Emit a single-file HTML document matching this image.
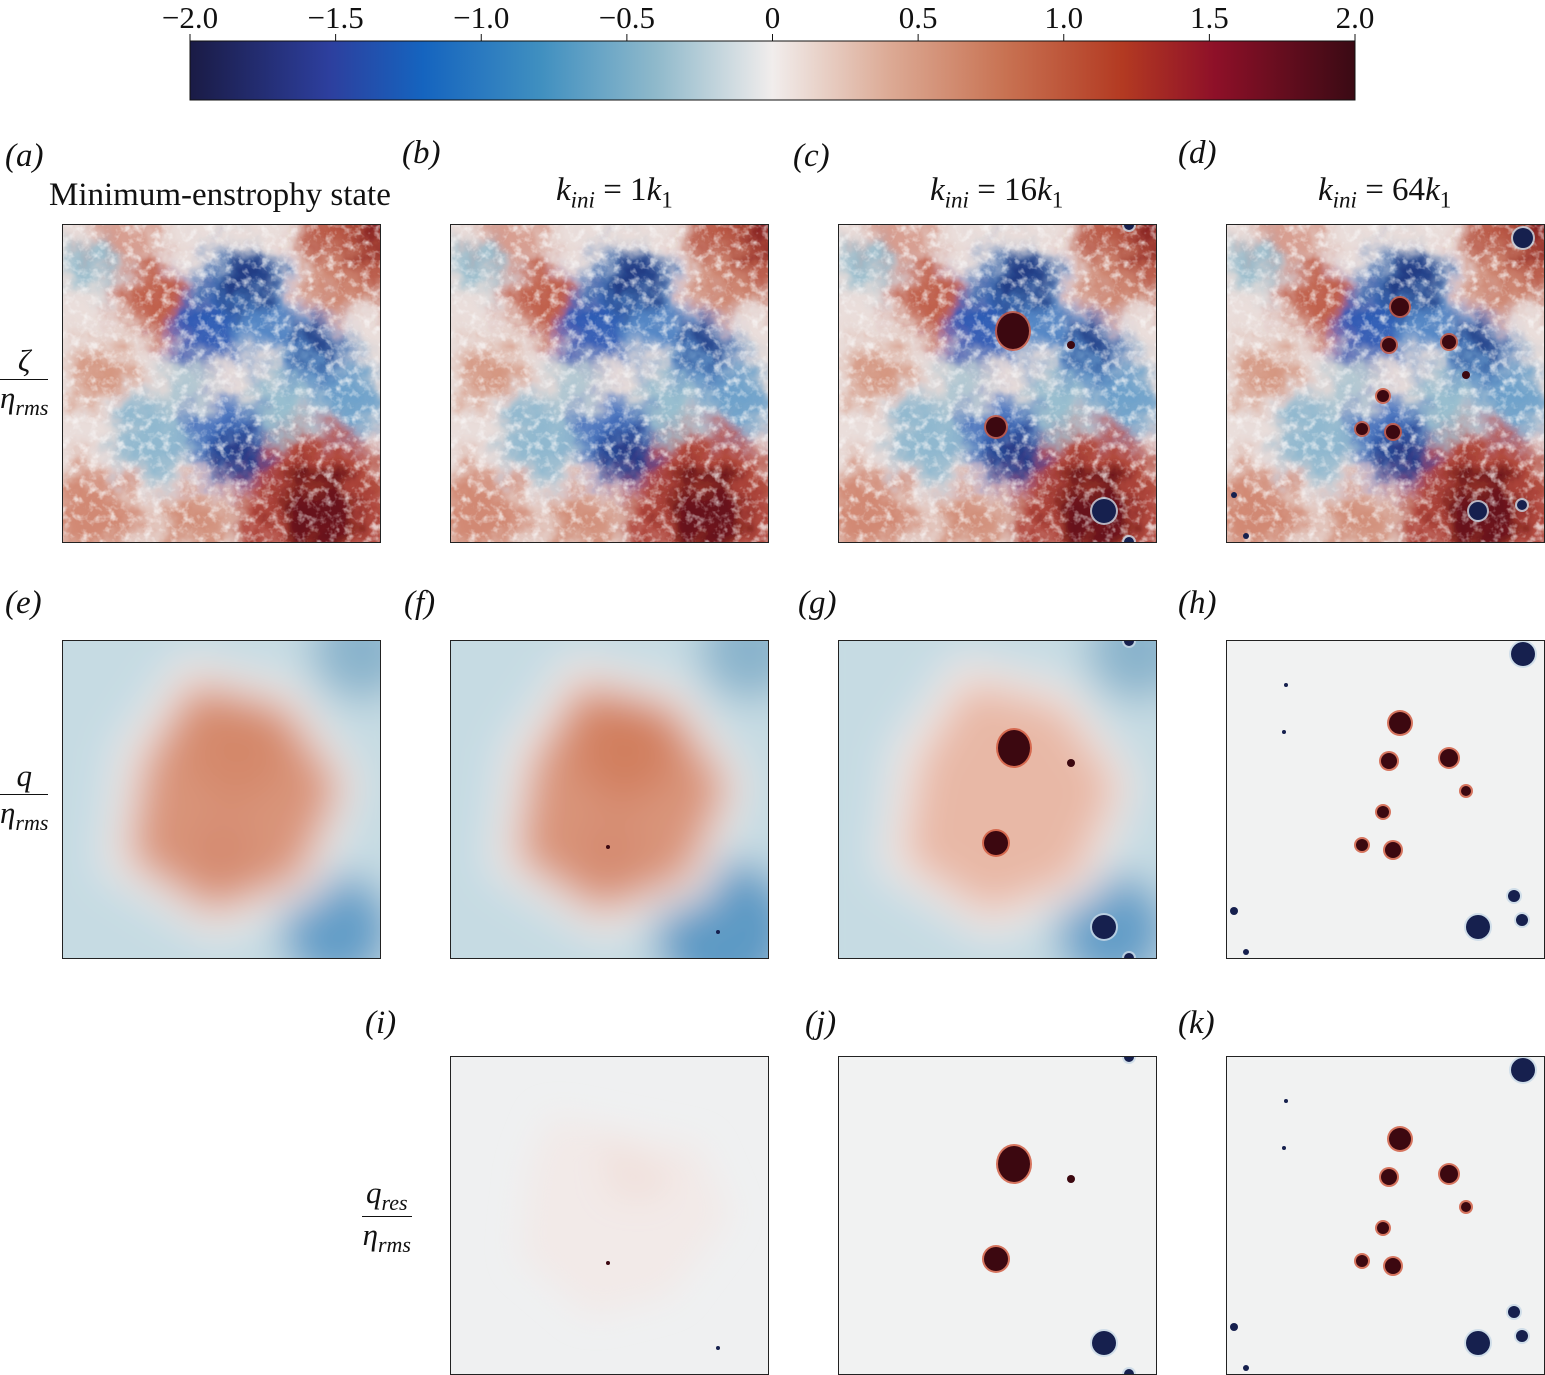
<!DOCTYPE html>
<html><head><meta charset="utf-8">
<style>
body{margin:0;background:#fff;width:1545px;height:1375px;overflow:hidden;position:relative;font-family:"Liberation Serif",serif;}
.lab{position:absolute;font-size:33px;color:#111;font-style:italic;font-family:"Liberation Serif",serif;}
.tt{position:absolute;font-size:33px;color:#111;font-family:"Liberation Serif",serif;white-space:nowrap;}
.frac{position:absolute;font-size:31px;font-style:italic;text-align:center;color:#111;font-family:"Liberation Serif",serif;}
.frac .n{border-bottom:1.5px solid #111;padding:0 4px;}
svg{position:absolute;}
</style></head><body>
<svg id="cbar" style="left:0;top:0" width="1545" height="110"></svg>
<div id="labels"></div>
<div id="panels"></div>
<script>
const cbTicks=[-2.0,-1.5,-1.0,-0.5,0,0.5,1.0,1.5,2.0];
const cbLabels=["\u22122.0","\u22121.5","\u22121.0","\u22120.5","0","0.5","1.0","1.5","2.0"];
const cmapStops=[[0,"#1a1b45"],[0.12,"#2d3f9e"],[0.2,"#1564bf"],[0.3,"#3f8fc0"],[0.4,"#8fb9cb"],[0.5,"#f1edec"],[0.6,"#dcaa95"],[0.7,"#c87252"],[0.8,"#b33a22"],[0.88,"#8e1028"],[1,"#3a0a14"]];
const NS="http://www.w3.org/2000/svg";
function mk(t,a,p){const e=document.createElementNS(NS,t);for(const k in a)e.setAttribute(k,a[k]);if(p)p.appendChild(e);return e;}
const cb=document.getElementById('cbar');
const x0=190,x1=1355;
const cx=v=>x0+(v+2)/4*(x1-x0);
let d=mk('defs',{},cb);let lg=mk('linearGradient',{id:'cbg'},d);
cmapStops.forEach(s=>mk('stop',{offset:s[0],'stop-color':s[1]},lg));
const cbr=mk('rect',{x:x0,y:41,width:x1-x0,height:59,fill:'url(#cbg)',stroke:'#111','stroke-width':1},cb);

cbTicks.forEach((v,i)=>{mk('line',{x1:cx(v),x2:cx(v),y1:41,y2:34,stroke:'#111'},cb);
 const t=mk('text',{x:cx(v),y:28,'text-anchor':'middle','font-size':31,'font-family':'Liberation Serif',fill:'#111'},cb);t.textContent=cbLabels[i];
 });
const L=document.getElementById('labels');
const labs=[["(a)",5,138],["(b)",402,135],["(c)",793,138],["(d)",1178,135],["(e)",5,585],["(f)",404,585],["(g)",798,585],["(h)",1178,585],["(i)",365,1005],["(j)",805,1005],["(k)",1178,1005]];
labs.forEach(l=>{const e=document.createElement('div');e.className='lab';e.style.left=l[1]+'px';e.style.top=l[2]+'px';e.textContent=l[0];
 L.appendChild(e);});
L.insertAdjacentHTML('beforeend',`
<div class="tt" style="left:49px;top:177px">Minimum-enstrophy state</div>
<div class="tt" style="left:556px;top:172px"><i>k<sub style="font-size:23px">ini</sub></i> = 1<i>k</i><sub style="font-size:23px">1</sub></div>
<div class="tt" style="left:930px;top:172px"><i>k<sub style="font-size:23px">ini</sub></i> = 16<i>k</i><sub style="font-size:23px">1</sub></div>
<div class="tt" style="left:1318px;top:172px"><i>k<sub style="font-size:23px">ini</sub></i> = 64<i>k</i><sub style="font-size:23px">1</sub></div>
<div class="frac" style="left:0px;top:343px"><div class="n">ζ</div><div>η<sub style="font-size:22px">rms</sub></div></div>
<div class="frac" style="left:0px;top:758px"><div class="n">q</div><div>η<sub style="font-size:22px">rms</sub></div></div>
<div class="frac" style="left:362px;top:1175px"><div class="n">q<sub style="font-size:22px">res</sub></div><div>η<sub style="font-size:22px">rms</sub></div></div>`);
const colX=[62,450,838,1226],rowY=[224,640,1056];
const fieldBlobs=[
 [300,15,60,"#b0402a"],[320,0,30,"#7a1018"],[255,285,80,"#a83020"],[255,290,42,"#5a0a14"],[95,75,35,"#b84a34"],[40,150,30,"#d08870"],[30,290,45,"#cc7a60"],[130,300,35,"#cc8068"],[60,10,35,"#d49080"],[270,60,30,"#d08a74"],[30,40,25,"#8ab8cc"],
 [175,75,50,"#3a78c4"],[180,60,30,"#1a2a78"],[140,110,30,"#1e4cb0"],[245,125,40,"#3a78c4"],[250,120,22,"#1a2a78"],[165,215,42,"#2a62bc"],[175,230,24,"#1a2a78"],[90,215,40,"#80b2cc"],[290,175,35,"#5a98c8"],[220,180,30,"#8ab8cc"],[120,160,25,"#a8c4d0"]];
const panels=[
 {c:0,r:0,type:'z',v:[]},{c:1,r:0,type:'z',v:[]},
 {c:2,r:0,type:'z',v:[[175,107,16,18,'r'],[158,203,10,10,'r'],[233,121,4,4,'r'],[266,287,12,12,'b'],[291,1,5,5,'b'],[291,318,5,5,'b']]},
 {c:3,r:0,type:'z',v:[[174,83,9,9,'r'],[163,121,7,7,'r'],[223,118,7,7,'r'],[240,151,4,4,'r'],[157,172,6,6,'r'],[136,205,6,6,'r'],[167,208,7,7,'r'],[297,14,10,10,'b'],[252,287,9,9,'b'],[296,281,5,5,'b'],[8,271,3,3,'b'],[20,312,3,3,'b']]},
 {c:0,r:1,type:'q',k:1,v:[]},{c:1,r:1,type:'q',k:1.2,v:[[158,207,2,2,'r'],[268,292,2,2,'b']]},
 {c:2,r:1,type:'q',k:0.6,v:[[176,108,16,18,'r'],[158,203,12,12,'r'],[233,123,4,4,'r'],[266,287,12,12,'b'],[291,1,5,5,'b'],[291,318,5,5,'b']]},
 {c:3,r:1,type:'h',v:[[174,83,11,11,'r'],[163,121,8,8,'r'],[223,118,9,9,'r'],[240,151,5,5,'r'],[157,172,6,6,'r'],[136,205,6,6,'r'],[167,210,8,8,'r'],[297,14,12,12,'b'],[252,287,12,12,'b'],[288,256,6,6,'b'],[296,280,6,6,'b'],[8,271,4,4,'b'],[20,312,3,3,'b'],[60,45,2,2,'b'],[58,92,2,2,'b']]},
 {c:1,r:2,type:'i',v:[[158,207,2,2,'r'],[268,292,2,2,'b']]},
 {c:2,r:2,type:'h',v:[[176,108,16,18,'r'],[158,203,12,12,'r'],[233,123,4,4,'r'],[266,287,12,12,'b'],[291,1,5,5,'b'],[291,318,5,5,'b']]},
 {c:3,r:2,type:'h',v:[[174,83,11,11,'r'],[163,121,8,8,'r'],[223,118,9,9,'r'],[240,151,5,5,'r'],[157,172,6,6,'r'],[136,205,6,6,'r'],[167,210,8,8,'r'],[297,14,12,12,'b'],[252,287,12,12,'b'],[288,256,6,6,'b'],[296,280,6,6,'b'],[8,271,4,4,'b'],[20,312,3,3,'b'],[60,45,2,2,'b'],[58,92,2,2,'b']]}
];
const P=document.getElementById('panels');
panels.forEach((p,i)=>{
 const s=mk('svg',{width:319,height:319});s.style.left=colX[p.c]+'px';s.style.top=rowY[p.r]+'px';
 
 const df=mk('defs',{},s);
 const id='p'+i;
 const f=mk('filter',{id:id+'b',x:'-20%',y:'-20%',width:'140%',height:'140%'},df);
 if(p.type==='z'){
  mk('feTurbulence',{type:'fractalNoise',baseFrequency:0.035,numOctaves:4,seed:3,result:'t'},f);
  mk('feGaussianBlur',{in:'SourceGraphic',stdDeviation:12,result:'g'},f);
  mk('feDisplacementMap',{in:'g',in2:'t',scale:50,xChannelSelector:'R',yChannelSelector:'G'},f);
  const fn=mk('filter',{id:id+'n'},df);
  mk('feTurbulence',{type:'fractalNoise',baseFrequency:0.11,numOctaves:3,seed:7},fn);
  mk('feColorMatrix',{type:'matrix',values:'0 0 0 0 0.95  0 0 0 0 0.94  0 0 0 0 0.94  3 0 0 0 -1.45'},fn);
 } else {
  mk('feGaussianBlur',{in:'SourceGraphic',stdDeviation:p.type==='q'?20:16},f);
 }
 const bg={z:'#eadedb',q:'#c6dbe3',h:'#f1f2f2',i:'#eff0f1'}[p.type];
 mk('rect',{x:0,y:0,width:319,height:319,fill:bg},s);
 const g=mk('g',{filter:`url(#${id}b)`},s);
 if(p.type==='z'){fieldBlobs.forEach(b=>{mk('circle',{cx:b[0],cy:b[1],r:b[2],fill:b[3],opacity:0.85},g);});}
 else if(p.type==='q'){
  mk('rect',{x:-40,y:-40,width:400,height:400,fill:'#c6dbe3'},g);
  mk('circle',{cx:300,cy:10,r:50,fill:'#8ab4cc'},g);
  mk('circle',{cx:275,cy:290,r:p.k>1?70:55,fill:'#4a8ec0',opacity:p.k>1?0.85:0.8},g);
  mk('polygon',{points:'120,15 235,45 300,140 260,255 150,300 40,230 55,110',fill:'#f2ecea'},g);
  const red=p.k<1?'#e8b8a6':'#d9947a';
  mk('polygon',{points:'130,40 225,65 280,145 240,240 150,275 65,220 80,120',fill:red},g);
  if(p.k>=1){mk('circle',{cx:175,cy:110,r:50,fill:'#cf7c5c',opacity:p.k>1?0.9:0.5},g);mk('circle',{cx:160,cy:210,r:35,fill:'#d2866a',opacity:0.6},g);}
 } else if(p.type==='i'){
  mk('polygon',{points:'150,80 230,120 200,145 160,140',fill:'#e8c4b8'},g);
  mk('polygon',{points:'100,60 250,90 280,160 220,240 140,260 70,200 80,110',fill:'#f2e8e6',opacity:0.8},g);
 }
 if(p.type==='z') mk('rect',{x:0,y:0,width:319,height:319,filter:`url(#${id}n)`,opacity:0.7},s);
 p.v.forEach(v=>{
  const dark=v[4]==='r'?'#3c0810':'#16204e', rim=v[4]==='r'?'#d0553a':'#c8d8e6';
  if(v[2]>=5) mk('ellipse',{cx:v[0],cy:v[1],rx:v[2]+2,ry:v[3]+2,fill:rim,opacity:0.8},s);
  const e=mk('ellipse',{cx:v[0],cy:v[1],rx:v[2],ry:v[3],fill:dark},s);
  
 });
 mk('rect',{x:0.5,y:0.5,width:318,height:318,fill:'none',stroke:'#222','stroke-width':1},s);
 P.appendChild(s);
});
</script>
</body></html>
